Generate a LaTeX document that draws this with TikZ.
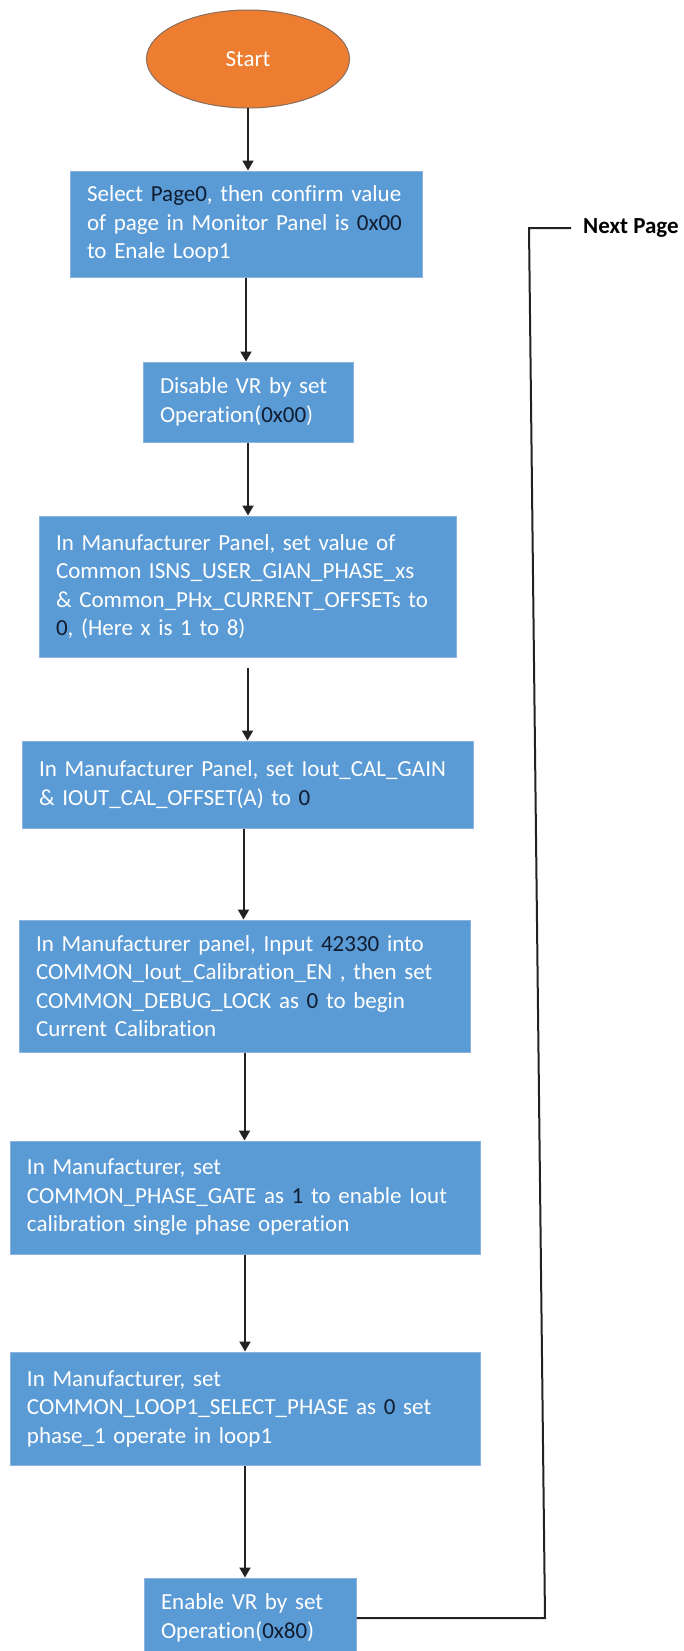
\documentclass[tikz,border=0pt]{standalone}
\usepackage{fontspec}
\setmainfont{Carlito}[RawFeature={-liga;-clig;-calt;-dlig}]
\usetikzlibrary{shapes.geometric,arrows.meta,calc}
\definecolor{boxblue}{HTML}{5B9BD5}
\definecolor{boxedge}{HTML}{8CB3DD}
\definecolor{startor}{HTML}{ED7D31}
\definecolor{startedge}{HTML}{8A6E5C}
\definecolor{hl}{HTML}{101C30}
\definecolor{lnk}{HTML}{222222}
\newcommand{\hv}[1]{\textcolor{hl}{#1}}
\newcommand{\ml}[1]{\mbox{#1}}
\begin{document}
\begin{tikzpicture}[x=1pt,y=-1pt,
  stepbox/.style={rectangle, fill=boxblue, draw=boxedge, line width=1pt, text=white,
    align=left, inner xsep=17pt, inner ysep=0pt, font=\fontsize{23}{28.5}\selectfont},
  startnode/.style={ellipse, fill=startor, draw=startedge, line width=1pt, text=white,
    font=\fontsize{23}{28}\selectfont},
  arr/.style={draw=lnk, line width=2pt, -{Triangle[length=10pt,width=11pt]}},
  conn/.style={draw=lnk, line width=2pt},
  nextlabel/.style={anchor=west, inner sep=0pt, text=black, font=\fontsize{23}{28}\selectfont\bfseries}]
\useasboundingbox (0,0) rectangle (683,1651);
\fill[white] (0,0) rectangle (683,1651);

\node[startnode, minimum width=203pt, minimum height=98pt] (st) at (248,59) {Start};

\node[stepbox, text width=318pt, minimum height=106pt] (b1) at (246,224)
  {\ml{Select \hv{Page0}, then confirm value}\\\ml{of page in Monitor Panel is \hv{0x00}}\\\ml{to Enale Loop1}};
\node[stepbox, text width=176pt, minimum height=80pt] (b2) at (248,402)
  {\ml{Disable VR by set}\\\ml{Operat\kern0pt ion(\hv{0x00})}};
\node[stepbox, text width=383pt, minimum height=141pt] (b3) at (247.5,586.5)
  {\ml{In Manufacturer Panel, set value of}\\\ml{Common ISNS\_USER\_GIAN\_PHASE\_xs}\\\ml{\& Common\_PHx\_CURRENT\_OFFSETs to}\\\ml{\hv{0}, (Here x is 1 to 8)}};
\node[stepbox, text width=417pt, minimum height=87pt] (b4) at (247.5,784.5)
  {\ml{In Manufacturer Panel, set Iout\_CAL\_GAIN}\\\ml{\& IOUT\_CAL\_OFFSET(A) to \hv{0}}};
\node[stepbox, text width=417pt, minimum height=132pt] (b5) at (244.5,986)
  {\ml{In Manufacturer panel, Input \hv{42330} into}\\\ml{COMMON\_Iout\_Calibrat\kern0pt ion\_EN , then set}\\\ml{COMMON\_DEBUG\_LOCK as \hv{0} to begin}\\\ml{Current Calibrat\kern0pt ion}};
\node[stepbox, text width=436pt, minimum height=113pt] (b6) at (245,1197.5)
  {\ml{In Manufacturer, set}\\\ml{COMMON\_PHASE\_GATE as \hv{1} to enable Iout}\\\ml{calibrat\kern0pt ion single phase operat\kern0pt ion}};
\node[stepbox, text width=436pt, minimum height=113pt] (b7) at (245,1408.5)
  {\ml{In Manufacturer, set}\\\ml{COMMON\_LOOP1\_SELECT\_PHASE as \hv{0} set}\\\ml{phase\_1 operate in loop1}};
\node[stepbox, text width=178pt, minimum height=80pt] (b8) at (250,1618)
  {\ml{Enable VR by set}\\\ml{Operat\kern0pt ion(\hv{0x80})}};

\node[nextlabel] (np) at (583,228) {Next Page};

\draw[arr] (st.south) -- (st.south |- b1.north);
\draw[arr] (b1.south) -- (b1.south |- b2.north);
\draw[arr] (b2.south) -- (b2.south |- b3.north);
\draw[arr] ([yshift=-10pt]b3.south) -- (b3.south |- b4.north);
\draw[arr] ([xshift=-4pt]b4.south) -- ([xshift=-4pt]b4.south |- b5.north);
\draw[arr] (b5.south) -- (b5.south |- b6.north);
\draw[arr] (b6.south) -- (b6.south |- b7.north);
\draw[arr] (b7.south) -- (b7.south |- b8.north);

\coordinate (c1) at (545,1618);
\coordinate (c2) at (529,228);
\draw[conn] (b8.east) -- (c1) -- (c2) -- ([xshift=-12pt]np.west);
\end{tikzpicture}
\end{document}
